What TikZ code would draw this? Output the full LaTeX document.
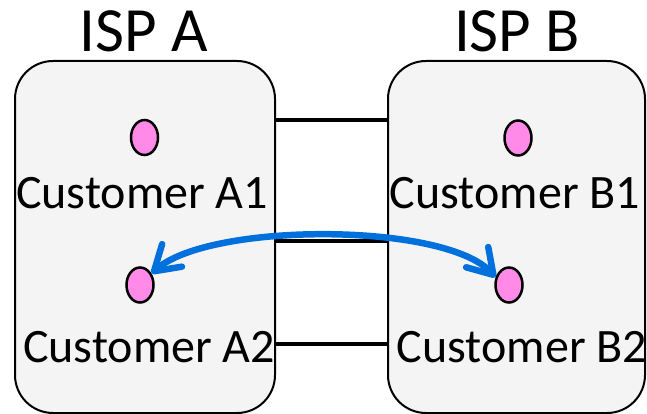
\documentclass[tikz,border=0pt]{standalone}
\usepackage{fontspec}
\setmainfont{Carlito}
\usetikzlibrary{shapes.geometric,arrows.meta}
\definecolor{boxgray}{RGB}{244,244,244}
\definecolor{dotpink}{RGB}{255,138,232}
\definecolor{arrowblue}{RGB}{0,112,221}
\begin{document}
\begin{tikzpicture}[x=1pt,y=-1pt,
  ispbox/.style={draw=black,line width=2pt,fill=boxgray,rounded corners=38pt,
    minimum height=352pt,inner sep=0pt},
  cust/.style={ellipse,draw=black,line width=2.5pt,fill=dotpink,
    minimum width=27pt,minimum height=35pt,inner sep=0pt},
  label/.style={font=\fontsize{48}{50}\selectfont,anchor=base,inner sep=0pt},
  title/.style={font=\fontsize{63}{66}\selectfont,anchor=base,inner sep=0pt},
  link/.style={draw=black,line width=4.5pt},
  blue arrow/.style={draw=arrowblue,line width=6.5pt,line cap=round,
    {Straight Barb[length=24pt,width=30pt,round]}-{Straight Barb[length=24pt,width=30pt,round]}}
]
\useasboundingbox (0,0) rectangle (647,414);
\node[ispbox,minimum width=260pt] (ispA) at (145,237) {};
\node[ispbox,minimum width=257pt] (ispB) at (516.5,237) {};
\node[title] (tA) at (144,52) {ISP A};
\node[title] (tB) at (517,52) {ISP B};
\node[cust] (A1) at (144.5,137.5) {};
\node[cust] (B1) at (518,138) {};
\node[cust] (A2) at (140,285) {};
\node[cust] (B2) at (509,285) {};
\node[label] (lA1) at (142,208) {Customer A1};
\node[label] (lB1) at (515,208) {Customer B1};
\node[label] (lA2) at (149,362) {Customer A2};
\node[label] (lB2) at (522,362) {Customer B2};
\coordinate (y1) at (0,120);
\coordinate (y2) at (0,241);
\coordinate (y3) at (0,344);
\draw[link] (ispA.east |- y1) -- (ispB.west |- y1);
\draw[link] (ispA.east |- y2) -- (ispB.west |- y2);
\draw[link] (ispA.east |- y3) -- (ispB.west |- y3);
\draw[blue arrow] (A2.45) .. controls (210,222) and (445,222) .. (B2.150);
\end{tikzpicture}
\end{document}
